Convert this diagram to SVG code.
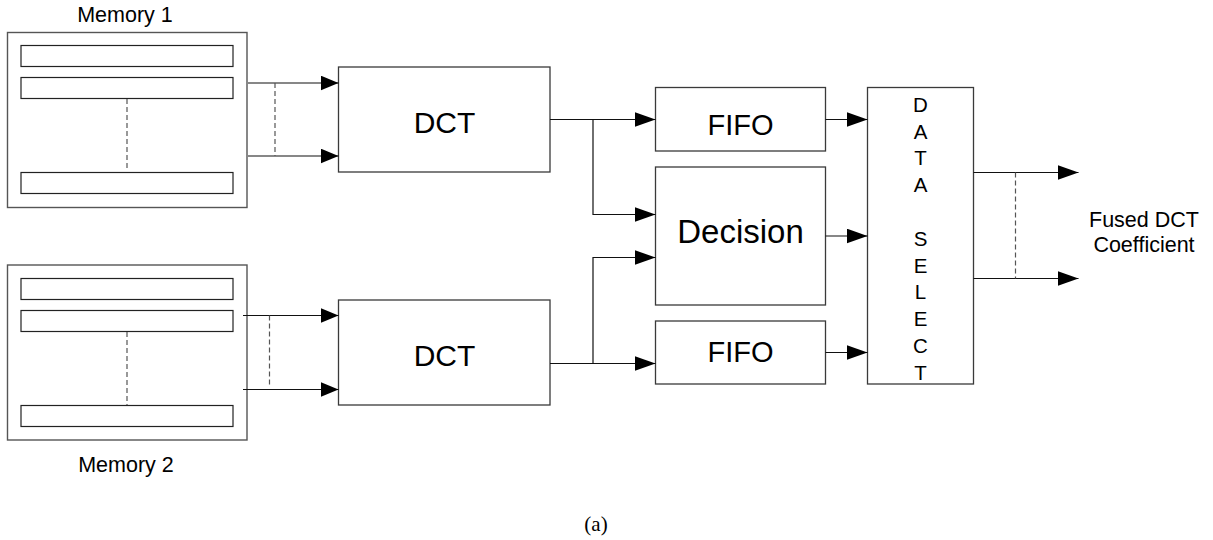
<svg xmlns="http://www.w3.org/2000/svg" width="1213" height="540" viewBox="0 0 1213 540">
  <style>
    .box { fill: #fff; stroke: #3a3a3a; stroke-width: 1.3; }
    .outer { fill: #fff; stroke: #555; stroke-width: 1.4; }
    .bar { fill: #fff; stroke: #222; stroke-width: 1.2; }
    .wire { fill: none; stroke: #111; stroke-width: 1.2; }
    .dash { fill: none; stroke: #555; stroke-width: 1.2; stroke-dasharray: 5 3; }
    .lbl { font-family: "Liberation Sans", Arial, sans-serif; fill: #000; text-anchor: middle; }
    .cap { font-family: "Liberation Serif", "Times New Roman", serif; fill: #000; text-anchor: middle; }
  </style>
  <defs>
    <marker id="arr" markerUnits="userSpaceOnUse" markerWidth="22" markerHeight="16" refX="21" refY="7.5" orient="auto">
      <path d="M0,0 L21,7.5 L0,15 Z" fill="#000"/>
    </marker>
    <marker id="arrS" markerUnits="userSpaceOnUse" markerWidth="19" markerHeight="16" refX="18" refY="7.5" orient="auto">
      <path d="M0,0 L18,7.5 L0,15 Z" fill="#000"/>
    </marker>
  </defs>
  <rect width="1213" height="540" fill="#fff"/>

  <!-- Memory 1 -->
  <g id="memory1">
    <text class="lbl" x="125" y="22" font-size="21.5">Memory 1</text>
    <rect class="outer" x="7.5" y="32.5" width="239.5" height="175"/>
    <rect class="bar" x="21" y="45.5" width="212" height="21"/>
    <rect class="bar" x="21" y="77.5" width="212" height="21"/>
    <rect class="bar" x="21" y="172.5" width="212" height="21"/>
    <line class="dash" x1="127" y1="99" x2="127" y2="171"/>
  </g>

  <!-- Memory 2 -->
  <g id="memory2">
    <rect class="outer" x="7.5" y="265" width="239.5" height="175"/>
    <rect class="bar" x="21" y="278.5" width="212" height="21"/>
    <rect class="bar" x="21" y="310.5" width="212" height="21"/>
    <rect class="bar" x="21" y="405.5" width="212" height="21"/>
    <line class="dash" x1="127" y1="332" x2="127" y2="405"/>
    <text class="lbl" x="126" y="471.5" font-size="21.5">Memory 2</text>
  </g>

  <!-- DCT blocks -->
  <g id="dct1">
    <rect class="box" x="338.5" y="67" width="211.5" height="105"/>
    <text class="lbl" x="444.5" y="133" font-size="30">DCT</text>
  </g>
  <g id="dct2">
    <rect class="box" x="338.5" y="300" width="211.5" height="105"/>
    <text class="lbl" x="444.5" y="366" font-size="30">DCT</text>
  </g>

  <!-- FIFOs and decision -->
  <g id="fifo1">
    <rect class="box" x="655.5" y="87.5" width="170" height="63.5"/>
    <text class="lbl" x="740.5" y="135" font-size="29">FIFO</text>
  </g>
  <g id="decision">
    <rect class="box" x="655.5" y="167" width="170" height="138"/>
    <text class="lbl" x="740.5" y="242.5" font-size="33">Decision</text>
  </g>
  <g id="fifo2">
    <rect class="box" x="655.5" y="321" width="170" height="63"/>
    <text class="lbl" x="740.5" y="361.5" font-size="29">FIFO</text>
  </g>

  <!-- Data select (vertical lettering) -->
  <g id="data-select">
    <rect class="box" x="867.5" y="87.5" width="106" height="296.5"/>
    <g class="lbl" font-size="20.5">
      <text x="920.5" y="111.7">D</text>
      <text x="920.5" y="138.5">A</text>
      <text x="920.5" y="165.3">T</text>
      <text x="920.5" y="192.1">A</text>
      <text x="920.5" y="245.7">S</text>
      <text x="920.5" y="272.5">E</text>
      <text x="920.5" y="299.3">L</text>
      <text x="920.5" y="326.1">E</text>
      <text x="920.5" y="352.9">C</text>
      <text x="920.5" y="379.7">T</text>
    </g>
  </g>

  <!-- Output label -->
  <g id="output">
    <text class="lbl" x="1144" y="227" font-size="21.5">Fused DCT</text>
    <text class="lbl" x="1144" y="251.5" font-size="21.5">Coefficient</text>
  </g>

  <!-- Connectors -->
  <g id="connectors">
    <!-- memory 1 to DCT -->
    <line class="wire" x1="248" y1="83" x2="338.5" y2="83" marker-end="url(#arrS)"/>
    <line class="wire" x1="248" y1="156" x2="338.5" y2="156" marker-end="url(#arrS)"/>
    <line class="dash" x1="275" y1="83" x2="275" y2="156"/>
    <!-- memory 2 to DCT -->
    <line class="wire" x1="243" y1="315.5" x2="338.5" y2="315.5" marker-end="url(#arrS)"/>
    <line class="wire" x1="243" y1="389.5" x2="338.5" y2="389.5" marker-end="url(#arrS)"/>
    <line class="dash" x1="269.5" y1="315.5" x2="269.5" y2="387"/>
    <!-- DCT 1 outputs -->
    <line class="wire" x1="550" y1="119.5" x2="655.5" y2="119.5" marker-end="url(#arr)"/>
    <polyline class="wire" points="593,119.5 593,214.5 655.5,214.5" marker-end="url(#arr)"/>
    <!-- DCT 2 outputs -->
    <line class="wire" x1="550" y1="363.5" x2="655.5" y2="363.5" marker-end="url(#arr)"/>
    <polyline class="wire" points="593,363.5 593,257.5 655.5,257.5" marker-end="url(#arr)"/>
    <!-- into data select -->
    <line class="wire" x1="825.5" y1="119.5" x2="867.5" y2="119.5" marker-end="url(#arr)"/>
    <line class="wire" x1="825.5" y1="236" x2="867.5" y2="236" marker-end="url(#arr)"/>
    <line class="wire" x1="825.5" y1="352.5" x2="867.5" y2="352.5" marker-end="url(#arr)"/>
    <!-- outputs -->
    <line class="wire" x1="973.5" y1="172.5" x2="1078.5" y2="172.5" marker-end="url(#arr)"/>
    <line class="wire" x1="973.5" y1="278.5" x2="1078.5" y2="278.5" marker-end="url(#arr)"/>
    <line class="dash" x1="1015.5" y1="172.5" x2="1015.5" y2="278.5"/>
  </g>

  <text class="cap" x="596" y="531" font-size="21">(a)</text>
</svg>
